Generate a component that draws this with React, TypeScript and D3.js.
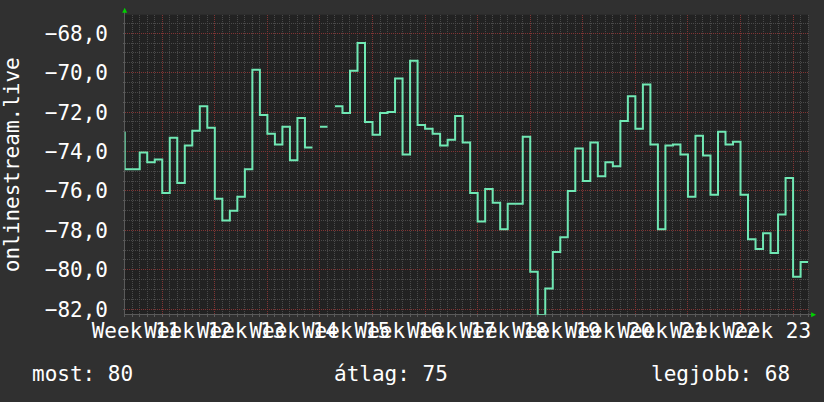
import * as d3 from "d3";

// ----- Data (daily values) -------------------------------------------------
const prevValue = -73.0; // value just before the window, gives the opening jump
const dailyValues: (number | null)[] = [
  -74.9, -74.9, -74.05, -74.55, -74.4, -76.1, -73.3, -75.6, -73.7, -72.95,
  -71.7, -72.8, -76.4, -77.5, -77.0, -76.3, -74.9, -69.85, -72.15, -73.1,
  -73.65, -72.75, -74.45, -72.3, -73.8, null, -72.75, null, -71.7, -72.05,
  -69.9, -68.5, -72.5, -73.15, -72.05, -72.0, -70.3, -74.15, -69.4, -72.65,
  -72.85, -73.1, -73.7, -73.4, -72.2, -73.55, -76.1, -77.55, -75.9, -76.6,
  -77.95, -76.65, -76.65, -73.25, -80.1, -82.3, -80.95, -79.1, -78.35, -76.0,
  -73.85, -75.5, -73.55, -75.25, -74.55, -74.75, -72.45, -71.2, -72.85, -70.6,
  -73.65, -77.95, -73.7, -73.65, -74.15, -76.3, -73.2, -74.2, -76.2, -73.0,
  -73.65, -73.5, -76.2, -78.45, -78.95, -78.15, -79.15, -77.2, -75.35, -80.35,
  -79.6,
];
const weekLabels = [
  "Week 11", "Week 12", "Week 13", "Week 14", "Week 15", "Week 16", "Week 17",
  "Week 18", "Week 19", "Week 20", "Week 21", "Week 22", "Week 23",
];
const firstWeekDay = 5; // first week boundary, in days from the left edge
const yTicks = [-82, -80, -78, -76, -74, -72, -70, -68];
const yLabel = "onlinestream.live";
const legendItems = [
  { label: "most", value: "80" },
  { label: "átlag", value: "75" },
  { label: "legjobb", value: "68" },
];

// ----- Layout ---------------------------------------------------------------
const W = 824;
const H = 402;
const plot = { left: 124.7, right: 808.1, top: 14.7, bottom: 314.7 };
const FONT = "'DejaVu Sans Mono', monospace";
const FS = 21;
const BG = "#303030";
const PLOT_BG = "#222222";
const LINE = "#70e8b4";
const MINOR = "#4a4a4a";
const MAJOR = "#823434";
const TEXT = "#ffffff";

const nDays = dailyValues.length;
const x = d3.scaleLinear().domain([0, nDays]).range([plot.left, plot.right]);
const y = d3.scaleLinear().domain([-82.28, -67.06]).range([plot.bottom, plot.top]);
const fmt = d3.formatLocale({ decimal: ",", thousands: " ", grouping: [3], currency: ["", ""] }).format(".1f");

// step points: each day is held flat until the next day begins
type P = { d: number; v: number | null };
const stepPoints: P[] = [{ d: 0, v: prevValue }];
dailyValues.forEach((v, i) => {
  stepPoints.push({ d: i, v });
  stepPoints.push({ d: i + 1, v });
});
const line = d3
  .line<P>()
  .defined((p) => p.v !== null)
  .x((p) => x(p.d))
  .y((p) => y(p.v as number));

const dayTicks = d3.range(0, nDays + 1);
const weekTicks = d3.range(firstWeekDay, nDays + 1, 7);
const minorY = d3.range(-82, -67.01, 0.5);

export default function App() {
  return (
    <div>
      <style>{`body{margin:0;background:${BG}}`}</style>
      <svg width={W} height={H} style={{ display: "block", background: BG }} fontFamily={FONT}>
        <defs>
          <clipPath id="plotClip">
            <rect x={plot.left} y={plot.top} width={plot.right - plot.left} height={plot.bottom - plot.top} />
          </clipPath>
        </defs>
        <rect x={plot.left} y={plot.top} width={plot.right - plot.left} height={plot.bottom - plot.top} fill={PLOT_BG} />

        {/* minor grid */}
        <g stroke={MINOR} strokeWidth={1} strokeDasharray="1,1" shapeRendering="crispEdges">
          {dayTicks.map((d) => (
            <line key={"dx" + d} x1={x(d)} x2={x(d)} y1={plot.top} y2={plot.bottom} />
          ))}
          {minorY.map((v) => (
            <line key={"my" + v} x1={plot.left} x2={plot.right} y1={y(v)} y2={y(v)} />
          ))}
        </g>
        {/* major grid */}
        <g stroke={MAJOR} strokeWidth={1} strokeDasharray="1,1" shapeRendering="crispEdges">
          {weekTicks.map((d) => (
            <line key={"wx" + d} x1={x(d)} x2={x(d)} y1={plot.top} y2={plot.bottom} />
          ))}
          {yTicks.map((v) => (
            <line key={"Mv" + v} x1={plot.left} x2={plot.right} y1={y(v)} y2={y(v)} />
          ))}
        </g>

        {/* axes */}
        <g stroke="#5a5a5a" strokeWidth={1} shapeRendering="crispEdges">
          <line x1={plot.left} x2={plot.right + 4} y1={plot.bottom} y2={plot.bottom} />
          <line x1={plot.left} x2={plot.left} y1={plot.bottom} y2={plot.top - 4} />
          {dayTicks.map((d) => (
            <line key={"tx" + d} x1={x(d)} x2={x(d)} y1={plot.bottom} y2={plot.bottom + 2} />
          ))}
          {minorY.map((v) => (
            <line key={"ty" + v} x1={plot.left - 2} x2={plot.left} y1={y(v)} y2={y(v)} />
          ))}
        </g>
        <path
          d={`M${plot.left - 2.5},${plot.top - 2}L${plot.left},${plot.top - 7}L${plot.left + 2.5},${plot.top - 2}Z`}
          fill="#00d000"
        />
        <path
          d={`M${plot.right + 3},${plot.bottom - 2.5}L${plot.right + 8},${plot.bottom}L${plot.right + 3},${plot.bottom + 2.5}Z`}
          fill="#00d000"
        />

        {/* data */}
        <path d={line(stepPoints) ?? ""} fill="none" stroke={LINE} strokeWidth={2} clipPath="url(#plotClip)" />

        {/* y tick labels */}
        <g fill={TEXT} fontSize={FS} textAnchor="end">
          {yTicks.map((v) => (
            <text key={"yl" + v} x={108} y={y(v) + 7.5}>
              {fmt(v)}
            </text>
          ))}
        </g>
        {/* x labels, centred on each week */}
        <g fill={TEXT} fontSize={FS} textAnchor="middle">
          {weekLabels.map((lab, i) => (
            <text key={lab} x={x(firstWeekDay + 7 * i - 3.5)} y={338}>
              {lab}
            </text>
          ))}
        </g>
        <text
          transform={`translate(19,${(plot.top + plot.bottom) / 2}) rotate(-90)`}
          textAnchor="middle"
          fill={TEXT}
          fontSize={FS}
        >
          {yLabel}
        </text>

        {/* legend */}
        <g fill={TEXT} fontSize={FS}>
          <text x={32} y={381}>{`${legendItems[0].label}: ${legendItems[0].value}`}</text>
          <text x={334} y={381}>{`${legendItems[1].label}: ${legendItems[1].value}`}</text>
          <text x={651} y={381}>{`${legendItems[2].label}: ${legendItems[2].value}`}</text>
        </g>
      </svg>
    </div>
  );
}
